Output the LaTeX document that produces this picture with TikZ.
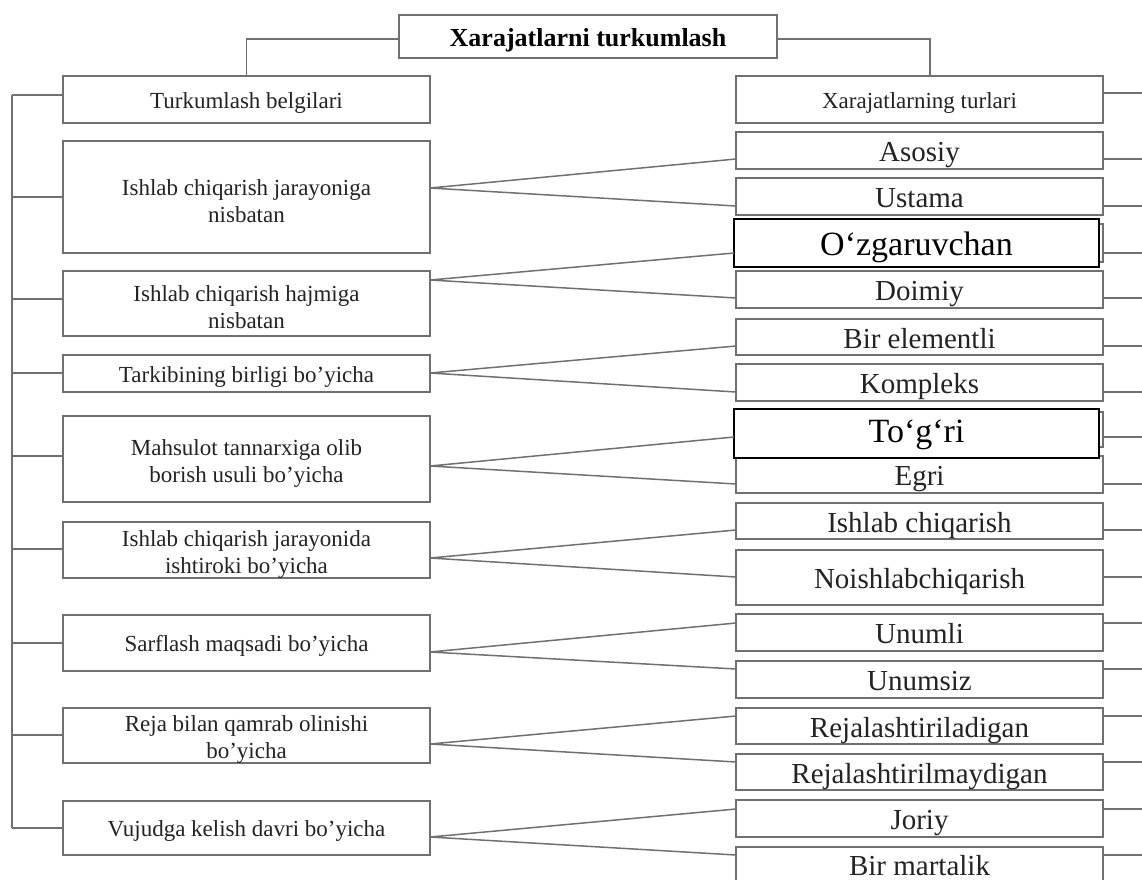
\documentclass[tikz,border=0pt]{standalone}
\usepackage{fontspec}
\setmainfont{Liberation Serif}
\definecolor{lc}{RGB}{112,112,112}
\definecolor{tc}{RGB}{35,35,35}
% \sbx{style}{name}{x,y}{height}{baseline below centre}{text}  (one line)
\newcommand\sbx[6]{%
  \node[#1, minimum height=#4pt] (#2) at (#3) {};
  \node[#1 txt, anchor=base] (#2t) at ([yshift=-#5pt]#2.center) {#6};}
% \mbx{style}{name}{x,y}{height}{shift down}{text}  (several lines)
\newcommand\mbx[6]{%
  \node[#1, minimum height=#4pt] (#2) at (#3) {};
  \node[#1 txt] (#2t) at ([yshift=-#5pt]#2.center) {#6};}
\begin{document}
\begin{tikzpicture}[x=1pt,y=-1pt,
  line/.style={draw=lc, line width=1.5pt},
  box/.style={draw=lc, line width=1.6pt, fill=white, inner sep=0pt, outer sep=0pt, anchor=north west},
  txt/.style={inner sep=0pt, align=center, text=tc},
  lbox/.style={box, minimum width=367pt},
  lbox txt/.style={txt, font=\fontsize{23}{27}\selectfont},
  rbox/.style={box, minimum width=367pt},
  rbox txt/.style={txt, font=\fontsize{29}{32}\selectfont},
  sbox/.style={box, minimum width=367pt},
  sbox txt/.style={txt, font=\fontsize{23}{27}\selectfont},
  bbox/.style={box, draw=black, line width=2pt, minimum width=365pt},
  bbox txt/.style={txt, text=black, font=\fontsize{34}{36}\selectfont},
  tbox/.style={box, minimum width=378pt},
  tbox txt/.style={txt, text=black, font=\bfseries\fontsize{26}{30}\selectfont}]
\useasboundingbox (0,0) rectangle (1142,879);
% title
\sbx{tbox}{T}{399,15}{43}{9.5}{Xarajatlarni turkumlash}
% left boxes
\sbx{lbox}{L0}{63,76}{47}{8.5}{Turkumlash belgilari}
\mbx{lbox}{L1}{63,141}{112}{4}{Ishlab chiqarish jarayoniga\\nisbatan}
\mbx{lbox}{L2}{63,271}{65}{4}{Ishlab chiqarish hajmiga\\nisbatan}
\sbx{lbox}{L3}{63,355}{37}{8.5}{Tarkibining birligi bo’yicha}
\mbx{lbox}{L4}{63,416}{86}{4}{Mahsulot tannarxiga olib\\borish usuli bo’yicha}
\mbx{lbox}{L5}{63,522}{56}{4}{Ishlab chiqarish jarayonida\\ishtiroki bo’yicha}
\sbx{lbox}{L6}{63,615}{56}{8.5}{Sarflash maqsadi bo’yicha}
\mbx{lbox}{L7}{63,708}{55}{4}{Reja bilan qamrab olinishi\\bo’yicha}
\sbx{lbox}{L8}{63,801}{54}{8.5}{Vujudga kelish davri bo’yicha}
% right boxes
\sbx{sbox}{R0}{736,76}{47}{8.5}{Xarajatlarning turlari}
\sbx{rbox}{R1}{736,132}{37}{11}{Asosiy}
\sbx{rbox}{R2}{736,178}{37}{11}{Ustama}
\node[rbox, minimum height=38pt] (R3g) at (736,224) {};
\sbx{bbox}{R3}{734,219}{48}{12}{O‘zgaruvchan}
\sbx{rbox}{R4}{736,271}{37}{11}{Doimiy}
\sbx{rbox}{R5}{736,319}{36}{11}{Bir elementli}
\sbx{rbox}{R6}{736,364}{37}{11}{Kompleks}
\sbx{rbox}{R8}{736,456}{37}{11}{Egri}
\node[rbox, minimum height=35pt] (R7g) at (736,412) {};
\sbx{bbox}{R7}{734,409}{49}{9}{To‘g‘ri}
\sbx{rbox}{R9}{736,503}{36}{11}{Ishlab chiqarish}
\sbx{rbox}{R10}{736,550}{55}{11}{Noishlabchiqarish}
\sbx{rbox}{R11}{736,614}{37}{11}{Unumli}
\sbx{rbox}{R12}{736,661}{37}{11}{Unumsiz}
\sbx{rbox}{R13}{736,708}{36}{11}{Rejalashtiriladigan}
\sbx{rbox}{R14}{736,754}{36}{11}{Rejalashtirilmaydigan}
\sbx{rbox}{R15}{736,800}{37}{11}{Joriy}
\sbx{rbox}{R16}{736,847}{38}{9}{Bir martalik}
% top connectors
\draw[line] (T.west |- 0,39) -| (L0.north);
\draw[line] (T.east |- 0,39) -| ([xshift=10.5pt]R0.north);
% left bus
\coordinate (bus) at (12,95);
\coordinate (busend) at (12,828);
\draw[line] (bus) -- (busend);
\foreach \n/\y in {L0/95, L1/197, L2/299, L3/373, L4/456, L5/549, L6/643, L7/735, L8/828}
  \draw[line] (\n.west |- 0,\y) -- (bus |- 0,\y);
% fans
\foreach \a/\y/\b/\yb/\c/\yc in {L1/188/R1/159/R2/206, L2/280/R3/253/R4/298, L3/373/R5/346/R6/392, L4/466/R7/437/R8/484, L5/558/R9/530/R10/577, L6/652/R11/623/R12/669, L7/744/R13/716/R14/762, L8/837/R15/809/R16/855}
  \draw[line] (\b.west |- 0,\yb) -- (\a.east |- 0,\y) -- (\c.west |- 0,\yc);
% right stubs
\foreach \n/\y in {R0/93, R1/159, R2/206, R3g/253, R4/298, R5/346, R6/392, R7g/437, R8/484, R9/530, R10/577, R11/623, R12/669, R13/716, R14/762, R15/809, R16/855}
  \draw[line] (\n.east |- 0,\y) -- ++(40,0);
\end{tikzpicture}
\end{document}
